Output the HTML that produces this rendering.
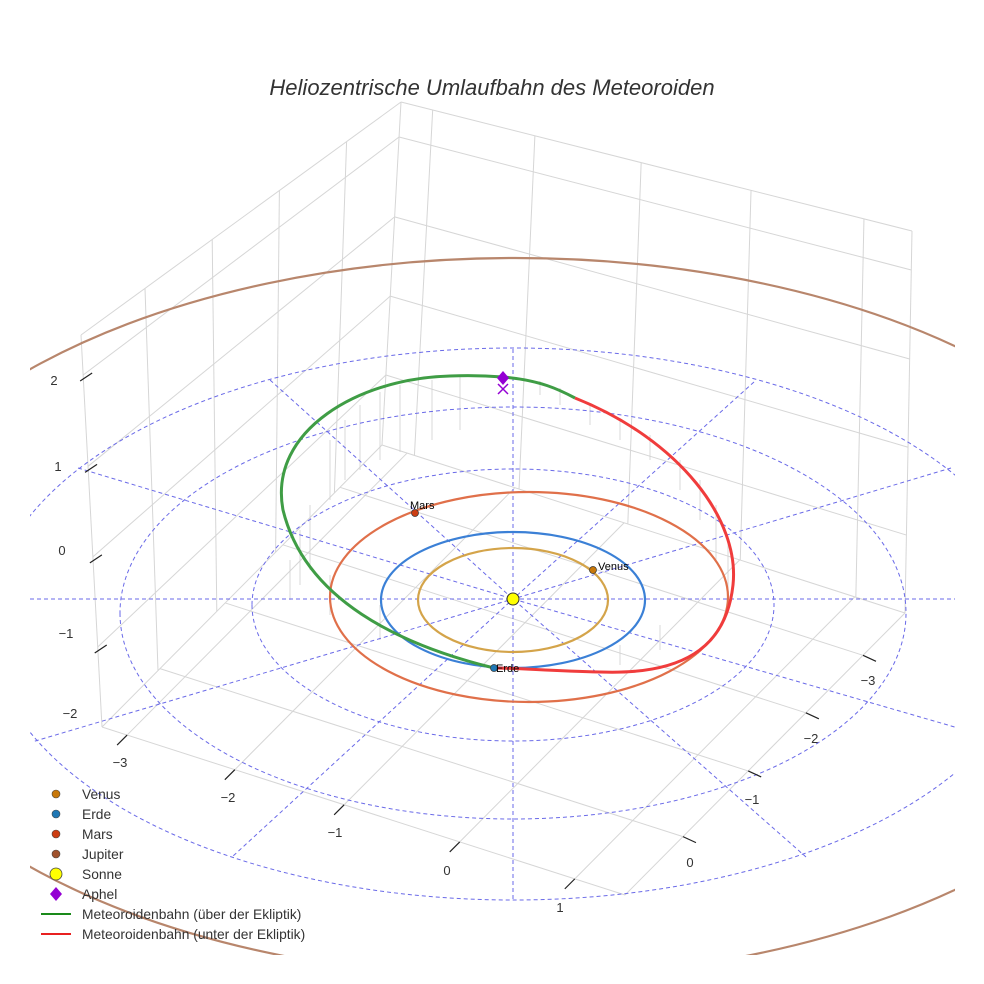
<!DOCTYPE html>
<html><head><meta charset="utf-8"><style>
html,body{margin:0;padding:0;background:#fff;}
svg{display:block;font-family:"Liberation Sans",sans-serif;}
</style></head><body>
<svg id="s" width="984" height="984" viewBox="0 0 984 984" xmlns="http://www.w3.org/2000/svg">
<defs><clipPath id="c"><rect x="30" y="0" width="925" height="955"/></clipPath></defs>
<rect width="984" height="984" fill="#fff"/>
<text x="492" y="95" text-anchor="middle" font-size="22" font-style="italic" fill="#333">Heliozentrische Umlaufbahn des Meteoroiden</text>
<g id="grid" stroke="#d6d6d6" stroke-width="1" fill="none"></g>
<g id="drops" stroke="#d0d0d0" stroke-width="0.8"></g>
<g clip-path="url(#c)" fill="none" stroke="#6a6ae8" stroke-width="1" stroke-dasharray="4,3">
 <path d="M252,605 A261,136 0 1 0 774,605 A261,136 0 1 0 252,605"/>
 <path d="M120,613 A393,206 0 1 0 906,613 A393,206 0 1 0 120,613"/>
 <path d="M-12,624 A525,276 0 1 0 1038,624 A525,276 0 1 0 -12,624"/>
 <line x1="30" y1="599" x2="955" y2="599"/>
 <line x1="513" y1="349" x2="513" y2="900"/>
 <polyline points="78,468 513,599 965,730"/>
 <polyline points="270,380 513,599 806,857"/>
 <polyline points="754,382 513,599 232,857"/>
 <polyline points="951,468 513,599 32,742"/>
</g>
<g clip-path="url(#c)" fill="none" stroke-width="2.2">
 <ellipse cx="515" cy="618" rx="671" ry="360" stroke="#b8866c"/>
 <ellipse cx="529" cy="597" rx="199" ry="105" stroke="#e0704a"/>
 <ellipse cx="513" cy="600" rx="132" ry="68" stroke="#3b80d6"/>
 <ellipse cx="513" cy="600" rx="95" ry="52" stroke="#d4a44a"/>
</g>
<g fill="none" stroke-width="3">
 <path d="M494,668 C400,645 305,600 283,510 C268,430 360,378 450,376 C475,375 490,376 503,377 C540,380 560,390 575,398" stroke="#3f9d45"/>
 <path d="M575,398 C680,440 740,520 733,585 C726,650 680,675 600,672 C550,671 520,668 494,668" stroke="#f03c3c"/>
</g>
<g stroke="#222" stroke-width="1.2" id="ticks"></g>
<g font-size="13" fill="#333" text-anchor="middle">
 <text x="54" y="385">2</text><text x="58" y="471">1</text><text x="62" y="555">0</text><text x="66" y="638">−1</text><text x="70" y="718">−2</text>
 <text x="120" y="767">−3</text><text x="228" y="802">−2</text><text x="335" y="837">−1</text><text x="447" y="875">0</text><text x="560" y="912">1</text>
 <text x="868" y="685">−3</text><text x="811" y="743">−2</text><text x="752" y="804">−1</text><text x="690" y="867">0</text>
</g>
<circle cx="513" cy="599" r="6" fill="#ffff00" stroke="#333" stroke-width="1"/>
<circle cx="593" cy="570" r="3.5" fill="#c8780a" stroke="#333" stroke-width="0.7"/>
<circle cx="494" cy="668" r="3.5" fill="#1f77b4" stroke="#333" stroke-width="0.7"/>
<circle cx="415" cy="513" r="3.5" fill="#cc3d12" stroke="#333" stroke-width="0.7"/>
<g font-size="11" fill="#000">
 <text x="598" y="570">Venus</text><text x="496" y="672">Erde</text><text x="410" y="509">Mars</text>
</g>
<path d="M503,371 L509,378 L503,385 L497,378Z" fill="#9400d3"/>
<path d="M498,384 L508,394 M508,384 L498,394" stroke="#9400d3" stroke-width="1.5"/>
<g font-size="13.8" fill="#333">
 <circle cx="56" cy="794" r="4" fill="#c8780a" stroke="#444" stroke-width="0.6"/><text x="82" y="799">Venus</text>
 <circle cx="56" cy="814" r="4" fill="#1f77b4" stroke="#444" stroke-width="0.6"/><text x="82" y="819">Erde</text>
 <circle cx="56" cy="834" r="4" fill="#cc3d12" stroke="#444" stroke-width="0.6"/><text x="82" y="839">Mars</text>
 <circle cx="56" cy="854" r="4" fill="#a0522d" stroke="#444" stroke-width="0.6"/><text x="82" y="859">Jupiter</text>
 <circle cx="56" cy="874" r="6" fill="#ffff00" stroke="#444" stroke-width="0.8"/><text x="82" y="879">Sonne</text>
 <path d="M56,887 L62,894 L56,901 L50,894Z" fill="#9400d3"/><text x="82" y="899">Aphel</text>
 <line x1="41" y1="914" x2="71" y2="914" stroke="#1a8a1a" stroke-width="2"/><text x="82" y="919">Meteoroidenbahn (über der Ekliptik)</text>
 <line x1="41" y1="934" x2="71" y2="934" stroke="#e82020" stroke-width="2"/><text x="82" y="939">Meteoroidenbahn (unter der Ekliptik)</text>
</g>
<script>
(function(){
var NS="http://www.w3.org/2000/svg",g=document.getElementById("grid"),tk=document.getElementById("ticks"),dr=document.getElementById("drops");
function L(p,a,b,c,d){var l=document.createElementNS(NS,"line");l.setAttribute("x1",a);l.setAttribute("y1",b);l.setAttribute("x2",c);l.setAttribute("y2",d);p.appendChild(l);}
function lerp(a,b,t){return [a[0]+(b[0]-a[0])*t,a[1]+(b[1]-a[1])*t];}
var TL=[81,335],TB=[401,102],TR=[912,231],BL=[102,727],BB=[382,445],BR=[905,613],F=[625,895];
L(g,TL[0],TL[1],TB[0],TB[1]);L(g,TB[0],TB[1],TR[0],TR[1]);
L(g,TL[0],TL[1],BL[0],BL[1]);L(g,TB[0],TB[1],BB[0],BB[1]);L(g,TR[0],TR[1],BR[0],BR[1]);
L(g,BL[0],BL[1],BB[0],BB[1]);L(g,BB[0],BB[1],BR[0],BR[1]);
var fs=[0.102,0.335,0.566,0.796];
fs.forEach(function(f){var a=lerp(TL,BL,f),b=lerp(TB,BB,f),c=lerp(TR,BR,f);L(g,a[0],a[1],b[0],b[1]);L(g,b[0],b[1],c[0],c[1]);});
[0.2,0.41,0.62,0.83].forEach(function(t){var a=lerp(TL,TB,t),b=lerp(BL,BB,t);L(g,a[0],a[1],b[0],b[1]);});
[0.062,0.262,0.47,0.685,0.906].forEach(function(t){var a=lerp(TB,TR,t),b=lerp(BB,BR,t);L(g,a[0],a[1],b[0],b[1]);});
L(g,BL[0],BL[1],F[0],F[1]);L(g,F[0],F[1],BR[0],BR[1]);
[0.048,0.254,0.463,0.684,0.904].forEach(function(t){var a=lerp(BL,F,t);L(g,a[0],a[1],a[0]+280,a[1]-282);L(tk,a[0],a[1],a[0]-10,a[1]+10);});
[0.207,0.44,0.646,0.85].forEach(function(s){var a=lerp(F,BR,s);L(g,a[0],a[1],a[0]-523,a[1]-168);L(tk,a[0],a[1],a[0]+13,a[1]+6);});
fs.forEach(function(f){var a=lerp(TL,BL,f);L(tk,a[0]-3,a[1]+6,a[0]+9,a[1]-2);});
[[290,560,600],[300,530,585],[310,505,570],[330,440,500],[345,420,480],[360,405,470],[380,392,460],[400,385,452],[432,380,440],[460,377,430],[540,381,395],[560,388,405],[590,405,425],[620,418,440],[650,435,460],[680,460,490],[700,480,520],[716,505,560],[728,540,600],[660,625,650],[620,645,665],[380,605,640],[330,575,615]].forEach(function(d){L(dr,d[0],d[1],d[0],d[2]);});
})();
</script>
</svg>
</body></html>
